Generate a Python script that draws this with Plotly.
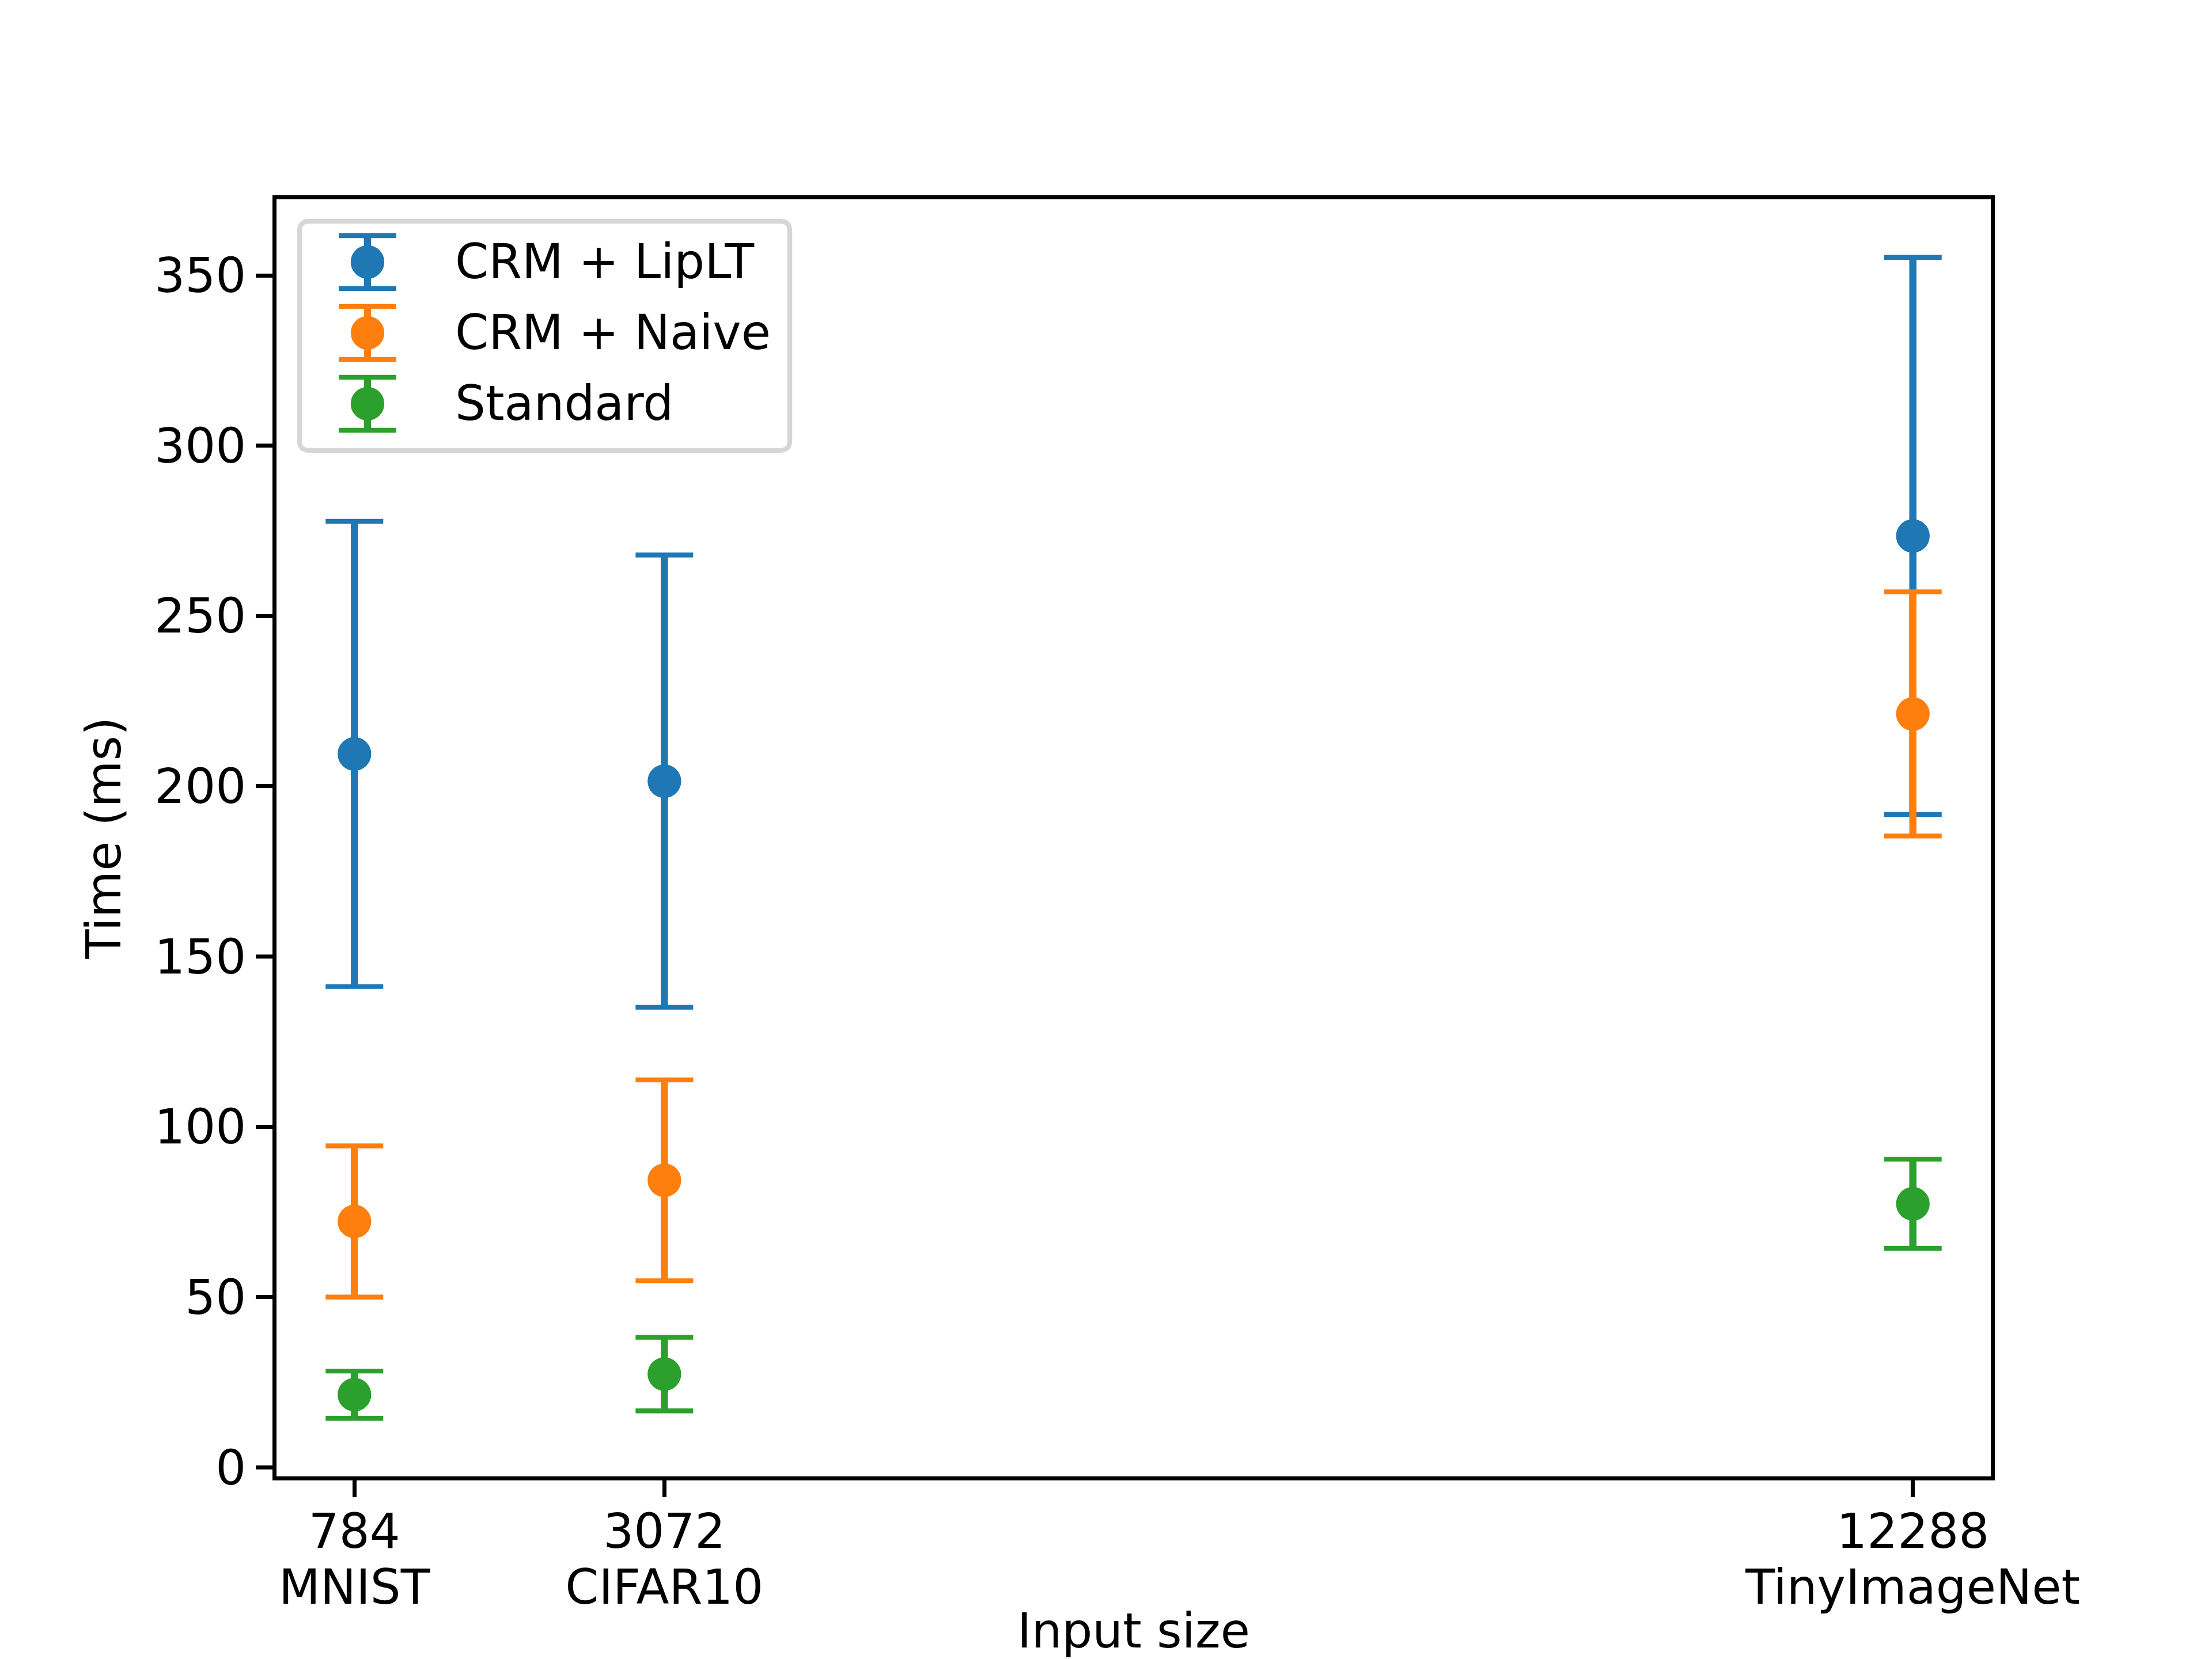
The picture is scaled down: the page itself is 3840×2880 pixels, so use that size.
import plotly.graph_objects as go

# data
input_sizes = [784, 3072, 12288]
dataset_names = ["MNIST", "CIFAR10", "TinyImageNet"]
series_names = ["CRM + LipLT", "CRM + Naive", "Standard"]

liplt_mean = [209.5, 201.5, 273.5]
liplt_err = [68.3, 66.4, 81.8]
naive_mean = [72.2, 84.3, 221.25]
naive_err = [22.2, 29.5, 35.85]
standard_mean = [21.35, 27.4, 77.4]
standard_err = [6.95, 10.8, 13.1]

colors = ["#1f77b4", "#ff7f0e", "#2ca02c"]

# matplotlib-ish sizes at 600 dpi (1 pt = 600/72 px)
PT = 600 / 72
FONT = dict(family="DejaVu Sans", size=10 * PT, color="black")
STEM_W = 1.5 * PT
CAP_W = 1.0 * PT
CAP_HALF = 6 * PT
MARKER = 6 * PT

W, H = 3840, 2880
BODY = 8  # default page margin around the plot div
LEFT, RIGHT, BOTTOM, TOP = 0.125, 0.9, 0.11, 0.88

means = [liplt_mean, naive_mean, standard_mean]
errs = [liplt_err, naive_err, standard_err]

fig = go.Figure()


def add_errorbar(x, y, err, color, xaxis="x", yaxis="y"):
    # caps: thin line, stems: thick line on top, marker last
    fig.add_trace(go.Scatter(
        x=x, y=y, mode="markers", xaxis=xaxis, yaxis=yaxis,
        marker=dict(size=1, color="rgba(0,0,0,0)"),
        error_y=dict(type="data", array=err, visible=True, color=color,
                     thickness=CAP_W, width=CAP_HALF),
        showlegend=False, hoverinfo="skip", cliponaxis=False,
    ))
    fig.add_trace(go.Scatter(
        x=x, y=y, mode="markers", xaxis=xaxis, yaxis=yaxis,
        marker=dict(size=MARKER, color=color, line=dict(width=CAP_W, color=color)),
        error_y=dict(type="data", array=err, visible=True, color=color,
                     thickness=STEM_W, width=0),
        showlegend=False, cliponaxis=False,
    ))


for m, e, c in zip(means, errs, colors):
    add_errorbar(input_sizes, m, e, c)

# invisible trace so the overlaid dataset-name axis gets drawn
fig.add_trace(go.Scatter(
    x=input_sizes, y=liplt_mean, xaxis="x3", yaxis="y", mode="markers",
    marker=dict(size=1, color="rgba(0,0,0,0)"), showlegend=False, hoverinfo="skip",
))

# axis limits with matplotlib's 5% margins
xpad = 0.05 * (max(input_sizes) - min(input_sizes))
xrange_ = [min(input_sizes) - xpad, max(input_sizes) + xpad]
lows = [v - d for m, e in zip(means, errs) for v, d in zip(m, e)]
highs = [v + d for m, e in zip(means, errs) for v, d in zip(m, e)]
ypad = 0.05 * (max(highs) - min(lows))

axis_common = dict(
    showline=True, mirror=True, linecolor="black", linewidth=0.8 * PT,
    ticks="outside", ticklen=3.5 * PT, tickwidth=0.8 * PT, tickcolor="black",
    showgrid=False, zeroline=False, tickfont=FONT, automargin=False,
)

fig.update_layout(
    width=W - BODY, height=H - BODY,
    margin=dict(l=LEFT * W - BODY, r=(1 - RIGHT) * W, t=(1 - TOP) * H - BODY, b=BOTTOM * H),
    paper_bgcolor="white", plot_bgcolor="rgba(0,0,0,0)",
    font=FONT, showlegend=False,
    xaxis=dict(
        range=xrange_,
        tickvals=input_sizes,
        ticktext=[str(s) for s in input_sizes],
        title=dict(text="Input size", font=FONT, standoff=150),
        ticklabelstandoff=-12,
        **axis_common,
    ),
    # second row of tick labels (dataset names) on an overlaid axis
    xaxis3=dict(
        range=xrange_, overlaying="x", anchor="y", side="bottom",
        tickvals=input_sizes, ticktext=dataset_names,
        ticks="", showline=False, showgrid=False, zeroline=False,
        tickfont=FONT, automargin=False, ticklabelstandoff=137,
    ),
    yaxis=dict(
        range=[min(lows) - ypad, max(highs) + ypad],
        tick0=0, dtick=50,
        title=dict(text="Time (ms)", font=FONT, standoff=34),
        ticklabelstandoff=0,
        **axis_common,
    ),
)

# legend drawn by hand so the glyphs keep the errorbar look
plot_w = (RIGHT - LEFT) * W
plot_h = (TOP - BOTTOM) * H
box_l, box_r = 40 / plot_w, 891 / plot_w
box_t, box_b = 1 - 38 / plot_h, 1 - 436 / plot_h
row_h = 123 / plot_h
first_row = 1 - 109 / plot_h
n = len(series_names)
y2_top = first_row + row_h / 2
y2_bot = y2_top - n * row_h
glyph_x = 158 / plot_w
text_x = 308 / plot_w

rx, ry = 17 / plot_w, 17 / plot_h
path = (
    f"M{box_l + rx},{box_t} L{box_r - rx},{box_t} Q{box_r},{box_t} {box_r},{box_t - ry} "
    f"L{box_r},{box_b + ry} Q{box_r},{box_b} {box_r - rx},{box_b} "
    f"L{box_l + rx},{box_b} Q{box_l},{box_b} {box_l},{box_b + ry} "
    f"L{box_l},{box_t - ry} Q{box_l},{box_t} {box_l + rx},{box_t} Z"
)
fig.add_shape(type="path", path=path, xref="paper", yref="paper", layer="below",
              fillcolor="rgba(255,255,255,0.8)",
              line=dict(color="rgba(204,204,204,0.8)", width=1.0 * PT))

for i, (name, c) in enumerate(zip(series_names, colors)):
    add_errorbar([glyph_x], [i], [0.374], c, xaxis="x2", yaxis="y2")
    fig.add_annotation(x=text_x, y=i, xref="paper", yref="y2", text=name,
                       showarrow=False, xanchor="left", yanchor="middle", font=FONT)

fig.update_layout(
    xaxis2=dict(domain=[0, 1], range=[0, 1], anchor="y2", visible=False),
    yaxis2=dict(domain=[y2_bot, y2_top], range=[n - 0.5, -0.5], anchor="x2", visible=False),
)

fig.write_html("out.html", config={"displayModeBar": False})
